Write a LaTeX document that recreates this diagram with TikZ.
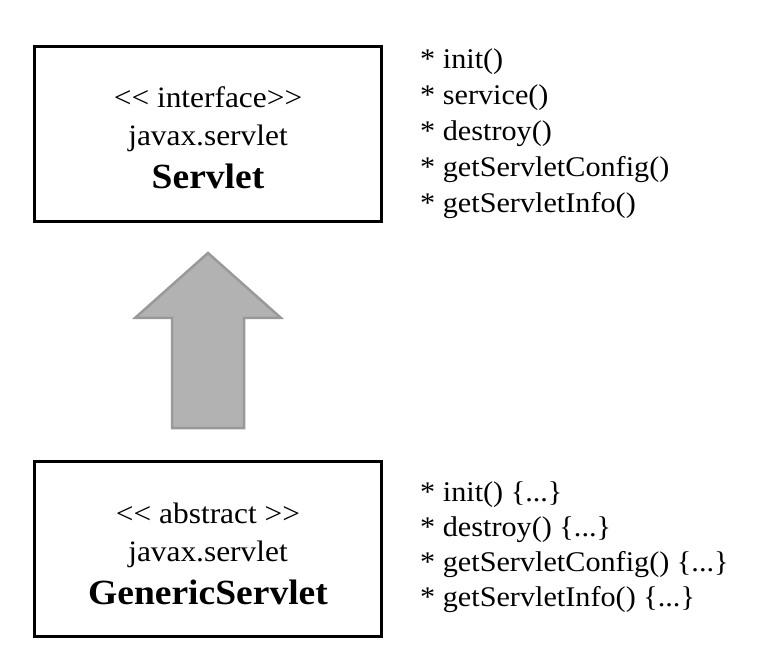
\documentclass[tikz,border=0pt]{standalone}
\usepackage{fontspec}
\setmainfont{Liberation Serif}[FakeStretch=1.06]
\usetikzlibrary{calc}
\begin{document}
\begin{tikzpicture}[x=1pt,y=-1pt,
  umlbox/.style={draw,line width=3pt,minimum width=347pt,minimum height=175pt,inner sep=0pt},
  boxtext/.style={align=center,inner sep=0pt,font=\fontsize{29.6}{38}\selectfont},
  methods/.style={align=left,anchor=north west,inner sep=0pt,font=\fontsize{28.5}{#1}\selectfont},
  fatarrow/.style={fill=black!30,draw=black!40,line width=2.5pt,line join=miter}]
  \useasboundingbox (0,0) rectangle (758,668);
  % the two classes
  \node[umlbox] (servlet) at (208,134) {};
  \node[umlbox] (generic) at (208,549) {};
  \node[boxtext] (servlet-name) at ([yshift=-4pt]servlet.center)
    {<\kern0pt< interface>\kern0pt>\\ javax.servlet\\[5pt] {\fontsize{35.4}{38}\selectfont\bfseries Servlet}};
  \node[boxtext] (generic-name) at ([yshift=-5pt]generic.center)
    {<\kern0pt< abstract >\kern0pt>\\ javax.servlet\\[5pt] {\fontsize{35.4}{38}\selectfont\bfseries GenericServlet}};
  % methods
  \node[methods=36] (servlet-ops) at ($(servlet.north east)+(37,3.5)$)
    {* init()\\ * service()\\ * destroy()\\ * getServletConfig()\\ * getServletInfo()};
  \node[methods=35] (generic-ops) at ($(generic.north east)+(37,22)$)
    {* init() \{...\}\\ * destroy() \{...\}\\ * getServletConfig() \{...\}\\ * getServletInfo() \{...\}};
  % inheritance arrow
  \coordinate (tip) at ($(servlet.south)+(0,30)$);
  \coordinate (tail) at ($(generic.north)+(0,-32)$);
  \draw[fatarrow] ($(tail)+(-36,0)$) -- ++(0,-110) -- ++(-37,0) -- (tip) -- ++(73,65) -- ++(-37,0) -- ++(0,110) -- cycle;
\end{tikzpicture}
\end{document}
